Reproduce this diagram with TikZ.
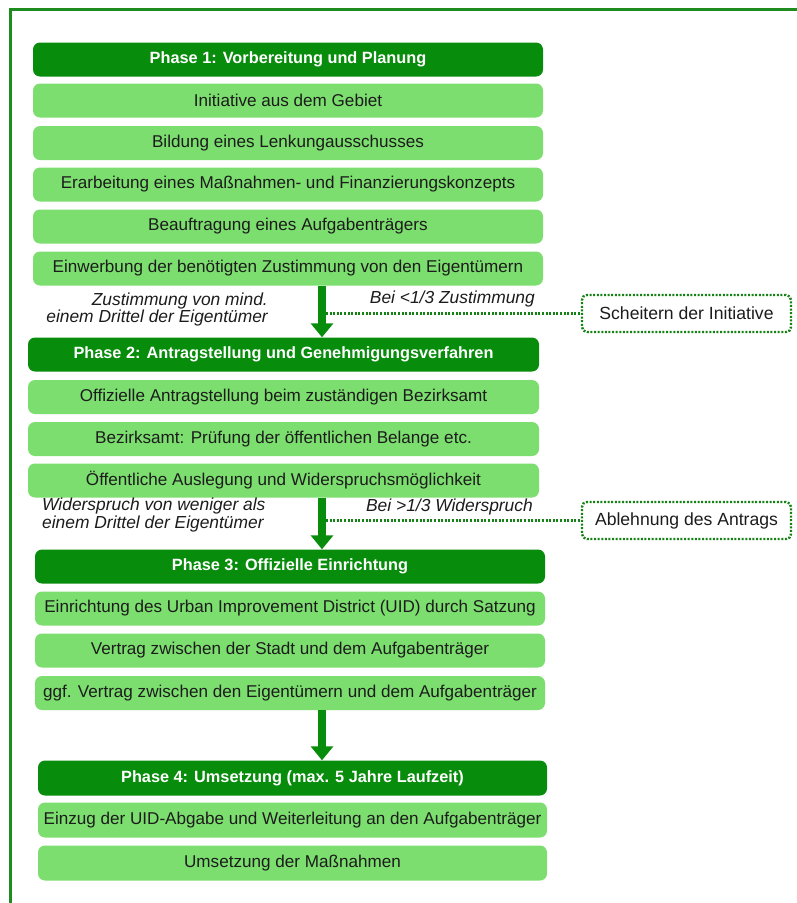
\documentclass[tikz,border=0pt]{standalone}
\usepackage{fontspec}
\setmainfont{Liberation Sans}
\usetikzlibrary{arrows.meta}
\definecolor{dkgreen}{RGB}{8,140,12}
\definecolor{ltgreen}{RGB}{124,222,110}
\definecolor{framegreen}{RGB}{30,140,30}
\definecolor{dotgreen}{RGB}{20,130,20}
\definecolor{txt}{RGB}{28,28,28}
\begin{document}
\begin{tikzpicture}[x=1pt,y=-1pt,
  stepbox/.style={rounded corners=7pt, fill=ltgreen, text=txt, inner sep=0pt,
    font=\fontsize{17.1}{19}\selectfont},
  phasebox/.style={rounded corners=7pt, fill=dkgreen, text=white, inner sep=0pt,
    font=\bfseries\fontsize{16.3}{19}\selectfont},
  endbox/.style={rounded corners=5pt, draw=dotgreen, line width=2.4pt,
    dash pattern=on 2pt off 1.6pt, fill=white, text=txt, inner sep=0pt,
    minimum width=209pt, minimum height=37pt, font=\fontsize{17.6}{19}\selectfont},
  bigarrow/.style={draw=dkgreen, line width=8pt,
    -{Triangle[width=22pt,length=14pt]}},
  dotline/.style={draw=dotgreen, line width=2.4pt, dash pattern=on 2pt off 1.6pt},
  lbl/.style={text=txt, inner sep=0pt, font=\itshape\fontsize{17.4}{14}\selectfont},
  g1/.style={minimum width=510pt, minimum height=34pt},
  g2/.style={minimum width=511pt, minimum height=34pt},
  g3/.style={minimum width=510pt, minimum height=34pt},
  g4/.style={minimum width=509pt, minimum height=35pt}]
\useasboundingbox (0,0) rectangle (796,903);
\fill[white] (0,0) rectangle (796,903);
% outer frame
\draw[framegreen, line width=3pt] (10,903) -- (10,9) -- (800,9);

% Phase 1
\node[phasebox,g1] (p1) at (288,59.5) {Phase 1: Vorbereitung und Planung};
\node[stepbox,g1] (s11) at (288,100.5) {Initiative aus dem Gebiet};
\node[stepbox,g1] (s12) at (288,143) {Bildung eines Lenkungausschusses};
\node[stepbox,g1] (s13) at (288,184.5) {Erarbeitung eines Maßnahmen- und Finanzierungskonzepts};
\node[stepbox,g1] (s14) at (288,226.5) {Beauftragung eines Aufgabenträgers};
\node[stepbox,g1] (s15) at (288,268.5) {Einwerbung der benötigten Zustimmung von den Eigentümern};

% Phase 2
\node[phasebox,g2] (p2) at (283.5,354.5) {Phase 2: Antragstellung und Genehmigungsverfahren};
\node[stepbox,g2] (s21) at (283.5,397) {Offizielle Antragstellung beim zuständigen Bezirksamt};
\node[stepbox,g2] (s22) at (283.5,439) {Bezirksamt: Prüfung der öffentlichen Belange etc.};
\node[stepbox,g2] (s23) at (283.5,480.5) {Öffentliche Auslegung und Widerspruchsmöglichkeit};

% Phase 3
\node[phasebox,g3] (p3) at (290,566.5) {Phase 3: Offizielle Einrichtung};
\node[stepbox,g3] (s31) at (290,608.5) {Einrichtung des Urban Improvement District (UID) durch Satzung};
\node[stepbox,g3] (s32) at (290,650.5) {Vertrag zwischen der Stadt und dem Aufgabenträger};
\node[stepbox,g3] (s33) at (290,693) {ggf. Vertrag zwischen den Eigentümern und dem Aufgabenträger};

% Phase 4
\node[phasebox,g4] (p4) at (292.5,778) {Phase 4: Umsetzung (max. 5 Jahre Laufzeit)};
\node[stepbox,g4] (s41) at (292.5,820) {Einzug der UID-Abgabe und Weiterleitung an den Aufgabenträger};
\node[stepbox,g4] (s42) at (292.5,863) {Umsetzung der Maßnahmen};

% arrows
\coordinate (ax) at (322,0);
\draw[bigarrow] (s15.south -| ax) -- (p2.north -| ax);
\draw[bigarrow] (s23.south -| ax) -- (p3.north -| ax);
\draw[bigarrow] (s33.south -| ax) -- (p4.north -| ax);

% side outcomes
\node[endbox] (fail) at (686.5,313.5) {Scheitern der Initiative};
\node[endbox] (rej) at (686.5,520.5) {Ablehnung des Antrags};
\coordinate (dx) at (326,0);
\draw[dotline] (fail.west -| dx) -- (fail.west);
\draw[dotline] (rej.west -| dx) -- (rej.west);

% labels
\node[lbl, anchor=south east] (lf) at (535,307) {Bei <1/3 Zustimmung};
\node[lbl, anchor=south east] (lr) at (533,515) {Bei >1/3 Widerspruch};
\node[lbl, anchor=east, align=right] (la) at (268,309.5) {Zustimmung von mind.\\einem Drittel der Eigentümer};
\node[lbl, anchor=west, align=left] (lb) at (42,515) {Widerspruch von weniger als\\einem Drittel der Eigentümer};
\end{tikzpicture}
\end{document}
